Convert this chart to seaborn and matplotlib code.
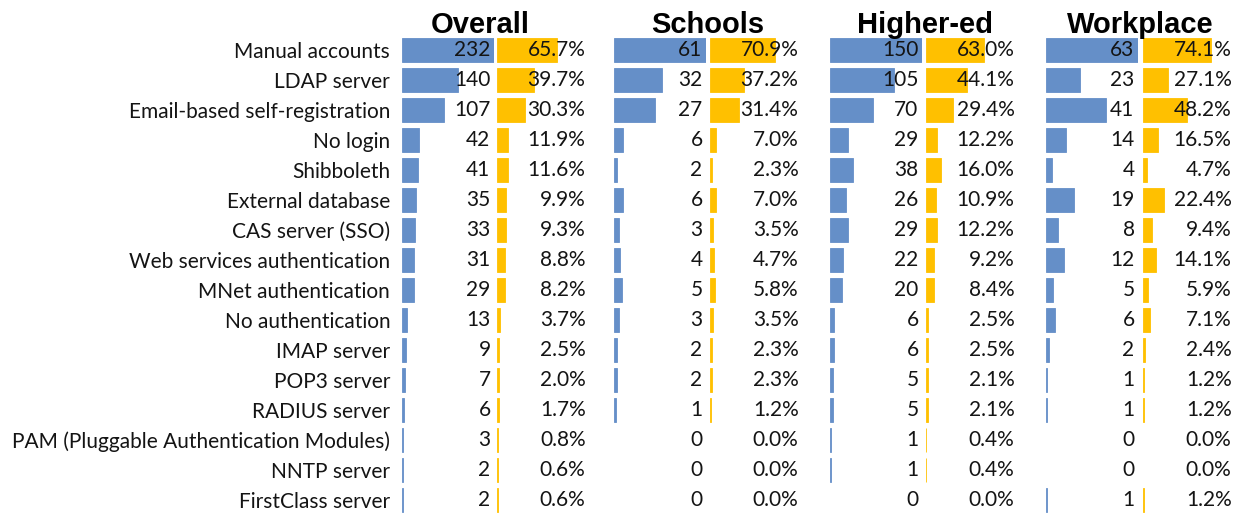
import pandas as pd
import seaborn as sns
import matplotlib.pyplot as plt

# survey: authentication methods used, by sector (count and share of sites)
categories = ["Manual accounts", "LDAP server", "Email-based self-registration",
              "No login", "Shibboleth", "External database", "CAS server (SSO)",
              "Web services authentication", "MNet authentication", "No authentication",
              "IMAP server", "POP3 server", "RADIUS server",
              "PAM (Pluggable Authentication Modules)", "NNTP server", "FirstClass server"]

overall_n = [232, 140, 107, 42, 41, 35, 33, 31, 29, 13, 9, 7, 6, 3, 2, 2]
overall_pct = [65.7, 39.7, 30.3, 11.9, 11.6, 9.9, 9.3, 8.8, 8.2, 3.7, 2.5, 2.0, 1.7, 0.8, 0.6, 0.6]

schools_n = [61, 32, 27, 6, 2, 6, 3, 4, 5, 3, 2, 2, 1, 0, 0, 0]
schools_pct = [70.9, 37.2, 31.4, 7.0, 2.3, 7.0, 3.5, 4.7, 5.8, 3.5, 2.3, 2.3, 1.2, 0.0, 0.0, 0.0]

higher_n = [150, 105, 70, 29, 38, 26, 29, 22, 20, 6, 6, 5, 5, 1, 1, 0]
higher_pct = [63.0, 44.1, 29.4, 12.2, 16.0, 10.9, 12.2, 9.2, 8.4, 2.5, 2.5, 2.1, 2.1, 0.4, 0.4, 0.0]

work_n = [63, 23, 41, 14, 4, 19, 8, 12, 5, 6, 2, 1, 1, 0, 0, 1]
work_pct = [74.1, 27.1, 48.2, 16.5, 4.7, 22.4, 9.4, 14.1, 5.9, 7.1, 2.4, 1.2, 1.2, 0.0, 0.0, 1.2]

titles = ["Overall", "Schools", "Higher-ed", "Workplace"]

BLUE = "#658FC8"
YELLOW = "#FFC000"
TXT = "#141414"
FS = 15

sns.set_style("white")
plt.rcParams['font.family'] = ['Lato', 'DejaVu Sans']

W, H = 1242, 513
fig = plt.figure(figsize=(W / 100, H / 100), dpi=100)


def px_axes(left, width, top=35, bottom=515):
    ax = fig.add_axes([left / W, 1 - bottom / H, width / W, (bottom - top) / H])
    return ax


def thin_edges(ax, color):
    # excel data bars keep a hairline even for tiny values, none for zero
    for bar in ax.patches:
        if bar.get_width() > 0:
            bar.set_edgecolor(color)
            bar.set_linewidth(0.6)
        else:
            bar.set_linewidth(0)


# (title, counts, pcts, blue cell left px, yellow cell left px, title centre px)
panels = [
    (titles[0], overall_n, overall_pct, 402, 497, 480),
    (titles[1], schools_n, schools_pct, 614, 710, 708),
    (titles[2], higher_n, higher_pct, 830, 926, 925),
    (titles[3], work_n, work_pct, 1046, 1143, 1140),
]

for k, (title, counts, pcts, xb, xy, xt) in enumerate(panels):
    df = pd.DataFrame({"method": categories, "n": counts, "pct": pcts})

    axb = px_axes(xb, 92)
    sns.barplot(data=df, x="n", y="method", color=BLUE, saturation=1,
                width=0.8, ax=axb)
    axb.set_xlim(0, max(counts))
    thin_edges(axb, BLUE)

    axy = px_axes(xy, 92)
    sns.barplot(data=df, x="pct", y="method", color=YELLOW, saturation=1,
                width=0.8, ax=axy)
    axy.set_xlim(0, 100)
    thin_edges(axy, YELLOW)

    for i, (n, p) in enumerate(zip(counts, pcts)):
        axb.annotate(f"{n}", (max(counts), i), xytext=(-2.5, 0),
                     textcoords="offset points", ha="right", va="center",
                     fontsize=FS, color=TXT)
        axy.annotate(f"{p:.1f}%", (100, i), xytext=(-2.5, 0),
                     textcoords="offset points", ha="right", va="center",
                     fontsize=FS, color=TXT)

    for ax in (axb, axy):
        sns.despine(ax=ax, left=True, bottom=True)
        ax.set_xticks([])
        ax.set_xlabel("")
        ax.set_ylabel("")
        ax.patch.set_alpha(0)

    axy.set_yticks([])
    if k == 0:
        axb.tick_params(axis="y", left=False, labelsize=FS, pad=5, labelcolor=TXT)
    else:
        axb.set_yticks([])

    fig.text(xt / W, 1 - 33 / H, title, ha="center", va="baseline",
             fontsize=21, fontweight="bold", family="Liberation Sans", color="black")

fig.savefig("out.png", dpi=100)
